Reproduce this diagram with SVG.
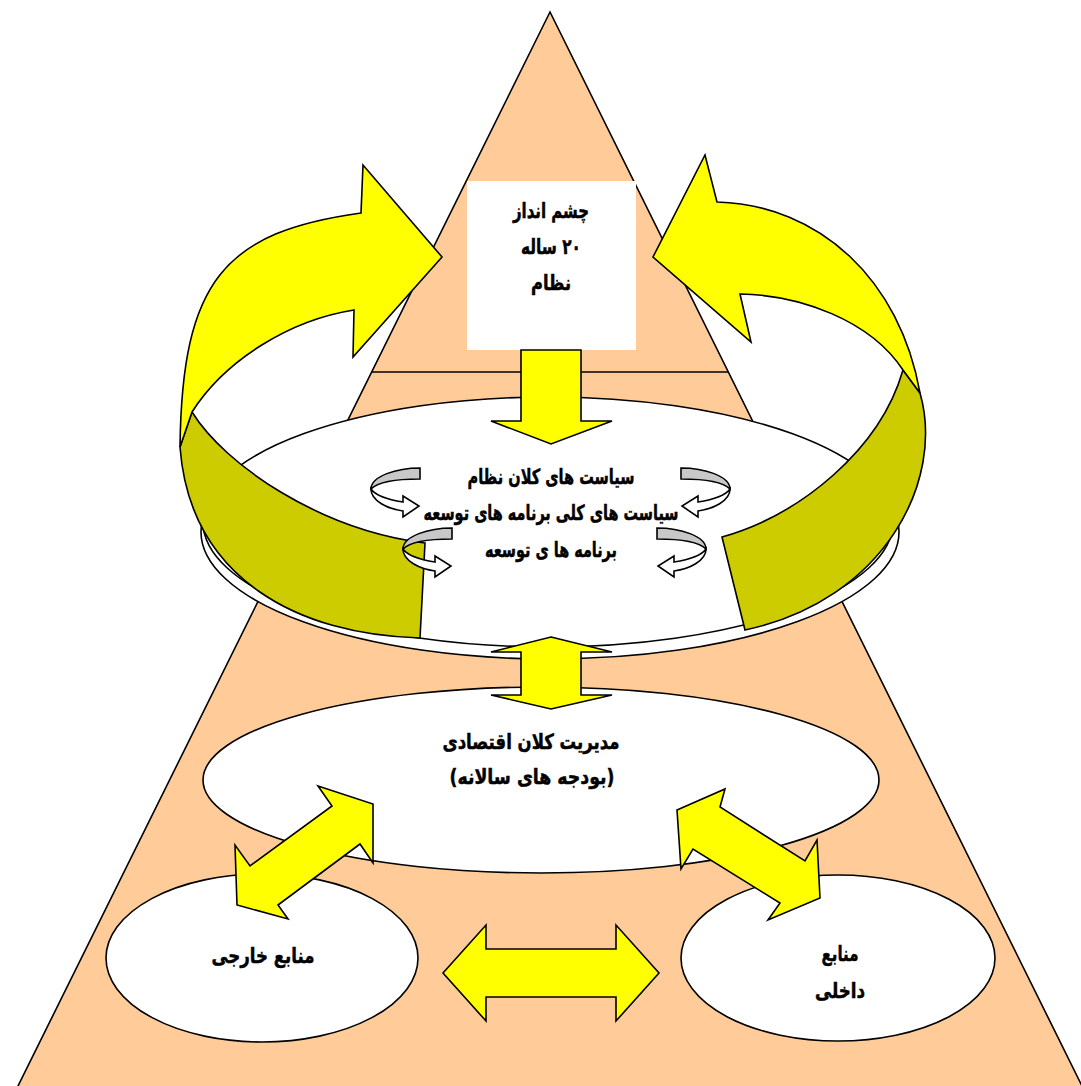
<svg xmlns="http://www.w3.org/2000/svg" width="1081" height="1086" viewBox="0 0 1081 1086">
<defs>
<style>
.ln{stroke:#000;stroke-width:1.6;stroke-linejoin:miter}
.peach{fill:#FFCC99}
.wh{fill:#FFFFFF}
.yl{fill:#FFFF00}
.ol{fill:#CCCC00}
.gr{fill:#C8C8C8}
.t{font-family:"DejaVu Sans",sans-serif;font-weight:bold;font-size:21px;fill:#000;stroke:#000;stroke-width:0.5;text-anchor:middle;direction:rtl}
</style>
<g id="curl">
<path class="gr ln" d="M420,468 C397,468 371,476 371,489 C378,482 398,479 420,479 Z"/>
<path class="wh ln" d="M371,489 C371,501 388,509 403,511 L403,517 L419,506 L403,496 L403,502 C390,500 376,496 371,489 Z"/>
</g>
</defs>
<rect width="1081" height="1086" fill="#FFFFFF"/>
<g id="pyramid">
<polygon class="peach ln" points="550,12 17,1088 1083,1088"/>
<line class="ln" x1="372" y1="372" x2="728" y2="372"/>
</g>
<g id="vision">
<rect x="467" y="181" width="169" height="169" fill="#FFFFFF"/>
<text class="t" x="551" y="218" textLength="76" lengthAdjust="spacingAndGlyphs">چشم انداز</text>
<text class="t" x="551" y="254" textLength="60" lengthAdjust="spacingAndGlyphs">۲۰ ساله</text>
<text class="t" x="551" y="290" textLength="40" lengthAdjust="spacingAndGlyphs">نظام</text>
</g>
<g id="policies">
<ellipse class="wh ln" cx="550" cy="532" rx="349" ry="127"/>
<ellipse class="wh ln" cx="548" cy="522" rx="345" ry="125"/>
<text class="t" x="551" y="484" textLength="167" lengthAdjust="spacingAndGlyphs">سیاست های کلان نظام</text>
<text class="t" x="551" y="520" textLength="255" lengthAdjust="spacingAndGlyphs">سیاست های کلی برنامه های توسعه</text>
<text class="t" x="551" y="557" textLength="132" lengthAdjust="spacingAndGlyphs">برنامه ها ی توسعه</text>
</g>
<g id="macro">
<ellipse class="wh ln" cx="541" cy="780" rx="338" ry="93"/>
<text class="t" x="531" y="749" textLength="177" lengthAdjust="spacingAndGlyphs">مدیریت کلان اقتصادی</text>
<text class="t" x="532" y="784" textLength="165" lengthAdjust="spacingAndGlyphs">(بودجه های سالانه)</text>
</g>
<g id="external">
<ellipse class="wh ln" cx="262" cy="958" rx="156" ry="84"/>
<text class="t" x="263" y="963" textLength="103" lengthAdjust="spacingAndGlyphs">منابع  خارجی</text>
</g>
<g id="internal">
<ellipse class="wh ln" cx="838" cy="958" rx="157" ry="83"/>
<text class="t" x="840" y="961" textLength="37" lengthAdjust="spacingAndGlyphs">منابع</text>
<text class="t" x="840" y="998" textLength="50" lengthAdjust="spacingAndGlyphs">داخلی</text>
</g>
<g id="connectors">
<path class="ol ln" d="M192,412 C225,465 320,530 425,543 L420,638 C300,635 190,580 180,447 Z"/>
<path class="yl ln" d="M361,213 L363,165 L442,257 L353,357 L354,310 C290,320 225,360 192,412 L180,447 C182,280 225,232 361,213 Z"/>
<path class="ol ln" d="M722,537 C800,515 880,450 903,370 L920,393 C945,480 885,600 745,630 Z"/>
<path class="yl ln" d="M717,202 C820,205 900,280 920,393 L903,370 C870,320 800,295 740,294 L751,342 L653,257 L705,155 Z"/>
<polygon class="yl ln" points="521,350 581,350 581,421 612,421 551,444 491,421 521,421"/>
<polygon class="yl ln" points="551,637 612,652 581,652 581,695 612,695 551,709 491,695 521,695 521,652 491,652"/>
<polygon class="yl ln" points="443,973 486,925 486,949 616,949 616,925 659,973 616,1021 616,997 486,997 486,1021"/>
<polygon class="yl ln" points="373,804 373,863 360,844 278,905 288,919 237,905 235,845 250,866 332,806 318,786"/>
<polygon class="yl ln" points="677,810 725,789 720,807 805,861 817,840 820,898 768,920 780,903 693,849 681,869"/>
<use href="#curl"/>
<use href="#curl" transform="translate(32,60)"/>
<use href="#curl" transform="translate(1101,0) scale(-1,1)"/>
<use href="#curl" transform="translate(1077,60) scale(-1,1)"/>
</g>
</svg>
